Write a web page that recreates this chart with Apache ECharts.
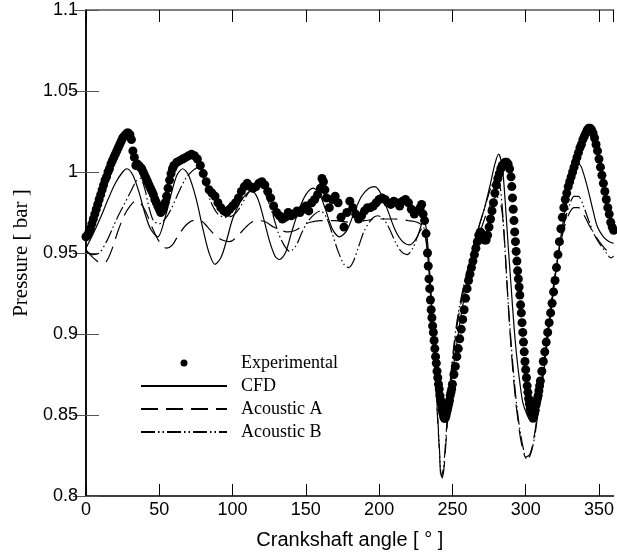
<!DOCTYPE html>
<html><head><meta charset="utf-8">
<script src="https://cdn.jsdelivr.net/npm/echarts@6/dist/echarts.min.js"></script>
<style>html,body{margin:0;padding:0;background:#fff}#c{width:617px;height:556px}</style>
</head><body><div id="c"></div>
<script>
// ---- data ----
const xTicks = [0, 50, 100, 150, 200, 250, 300, 350];
const yTicks = [0.8, 0.85, 0.9, 0.95, 1, 1.05, 1.1];
const seriesNames = ['Experimental', 'CFD', 'Acoustic A', 'Acoustic B'];

const expX = [0,1,2,3,4,5,6,7,8,9,10,11,12,13,14,15,16,17,18,19,20,21,22,23,24,25,26,27,28,29,30,31,32,33,34,35,36,37,38,39,40,41,42,43,44,45,46,47,48,49,50,51,52,53,54,55,56,57,58,59,60,62,64,66,68,70,72,74,76,78,80,82,84,86,88,90,92,94,96,98,100,102,104,106,108,110,112,114,116,118,120,122,124,126,128,130,132,134,136,138,140,142,144,146,148,150,152,154,156,158,160,161,162,163,164,166,168,170,172,174,176,178,180,182,184,186,188,190,192,194,196,198,200,202,204,206,208,210,212,214,216,218,220,222,224,226,228,229,230,231,232,233,233.5,234,234.5,235,235.5,236,236.5,237,237.5,238,238.5,239,239.5,240,240.5,241,241.5,242,242.5,243,243.5,244,244.5,245,245.5,246,246.5,247,247.5,248,248.5,249,249.5,250,251,252,253,254,255,256,257,258,259,260,261,262,263,264,265,266,267,268,269,270,271,272,273,274,275,276,277,278,279,280,281,282,283,284,285,286,287,288,289,290,290.5,291,291.5,292,292.5,293,293.5,294,294.5,295,295.5,296,296.5,297,297.5,298,298.5,299,299.5,300,300.5,301,301.5,302,302.5,303,303.5,304,304.5,305,305.5,306,306.5,307,307.5,308,308.5,309,309.5,310,311,312,313,314,315,316,317,318,319,320,321,322,323,324,325,326,327,328,329,330,331,332,333,334,335,336,337,338,339,340,341,342,343,344,345,346,347,348,349,350,351,352,353,354,355,356,357,358,359,360];
const expY = [0.960,0.961,0.963,0.965,0.968,0.971,0.974,0.977,0.980,0.983,0.986,0.989,0.992,0.995,0.997,1.000,1.002,1.005,1.007,1.009,1.011,1.013,1.015,1.017,1.019,1.021,1.022,1.023,1.024,1.024,1.023,1.020,1.013,1.009,1.004,1.005,1.004,1.003,1.002,1.000,0.998,0.996,0.994,0.992,0.990,0.988,0.986,0.983,0.981,0.979,0.977,0.975,0.976,0.978,0.981,0.985,0.990,0.995,0.999,1.002,1.004,1.006,1.007,1.008,1.009,1.010,1.011,1.010,1.008,1.004,0.999,0.994,0.989,0.987,0.985,0.981,0.978,0.976,0.975,0.977,0.979,0.981,0.984,0.988,0.991,0.993,0.991,0.990,0.991,0.993,0.994,0.992,0.988,0.984,0.979,0.975,0.973,0.971,0.972,0.975,0.973,0.974,0.976,0.975,0.977,0.979,0.976,0.981,0.983,0.986,0.990,0.996,0.994,0.989,0.984,0.978,0.983,0.985,0.981,0.972,0.966,0.975,0.982,0.978,0.974,0.971,0.973,0.976,0.978,0.978,0.979,0.981,0.983,0.984,0.983,0.981,0.980,0.982,0.981,0.979,0.982,0.983,0.981,0.977,0.974,0.976,0.978,0.980,0.974,0.970,0.962,0.950,0.942,0.934,0.928,0.921,0.915,0.910,0.905,0.901,0.896,0.891,0.886,0.882,0.877,0.873,0.869,0.866,0.862,0.859,0.856,0.853,0.851,0.849,0.848,0.848,0.849,0.851,0.853,0.855,0.857,0.859,0.862,0.864,0.866,0.869,0.875,0.880,0.886,0.891,0.897,0.903,0.909,0.915,0.922,0.928,0.933,0.937,0.941,0.945,0.949,0.953,0.957,0.961,0.963,0.962,0.960,0.958,0.958,0.961,0.966,0.971,0.976,0.981,0.987,0.992,0.996,0.999,1.002,1.004,1.005,1.006,1.006,1.005,1.002,0.997,0.991,0.984,0.977,0.970,0.963,0.957,0.951,0.945,0.939,0.934,0.929,0.924,0.918,0.913,0.907,0.901,0.895,0.889,0.883,0.878,0.873,0.868,0.864,0.860,0.857,0.854,0.852,0.850,0.849,0.848,0.849,0.851,0.853,0.856,0.858,0.860,0.862,0.865,0.868,0.871,0.877,0.883,0.889,0.895,0.901,0.907,0.913,0.919,0.926,0.933,0.941,0.949,0.957,0.965,0.972,0.978,0.983,0.987,0.991,0.994,0.997,1.000,1.003,1.006,1.009,1.012,1.015,1.017,1.020,1.022,1.024,1.026,1.027,1.027,1.026,1.024,1.021,1.017,1.013,1.008,1.003,0.998,0.993,0.988,0.983,0.978,0.974,0.969,0.966,0.964];

const cfdX = [0,5,10,15,20,25,28,32,36,40,44,49,54,58,62,66,70,75,80,84,88,92,96,100,105,110,113,117,121,125,129,132,136,140,145,150,155,159,163,168,173,178,183,188,193,197,201,206,211,216,221,226,230,232,234,236,238,240,242,244,246,248,250,253,256,260,264,268,272,276,279,281.5,284,286,288,290,292,294,296,298,301,304,307,310,313,316,319,322,325,328,331,334,336,338,342,346,349,353,357,360];
const cfdY = [0.953,0.962,0.972,0.983,0.993,1.000,1.002,0.998,0.988,0.975,0.965,0.960,0.972,0.986,0.998,1.002,0.998,0.984,0.964,0.950,0.943,0.947,0.958,0.971,0.981,0.987,0.988,0.984,0.972,0.958,0.948,0.946,0.950,0.962,0.976,0.986,0.990,0.987,0.978,0.965,0.960,0.964,0.975,0.985,0.990,0.991,0.987,0.976,0.964,0.957,0.955,0.960,0.969,0.966,0.945,0.915,0.890,0.868,0.853,0.848,0.852,0.862,0.876,0.894,0.912,0.932,0.950,0.966,0.978,0.993,1.005,1.011,1.003,0.982,0.955,0.930,0.905,0.885,0.870,0.858,0.850,0.847,0.850,0.862,0.882,0.905,0.927,0.948,0.966,0.982,0.994,1.002,1.005,1.003,0.991,0.976,0.966,0.960,0.957,0.956];

const acAX = [0,5,10,14,18,22,26,30,34,37,41,45,50,55,59,63,68,73,78,83,88,93,98,103,108,113,118,123,128,133,138,143,148,153,160,170,180,190,200,210,220,226,230,233,235,237,239,241,242.5,244,246,248,251,254,258,262,266,270,274,278,280,283,285,287,289,291,293,295,297,300,303,306,309,312,315,318,321,324,327,330,333,336,340,344,348,352,356,360];
const acAY = [0.952,0.947,0.944,0.945,0.953,0.964,0.973,0.979,0.982,0.981,0.975,0.966,0.957,0.953,0.955,0.961,0.967,0.970,0.970,0.966,0.961,0.958,0.957,0.960,0.965,0.969,0.970,0.969,0.966,0.964,0.963,0.964,0.967,0.969,0.970,0.970,0.969,0.970,0.971,0.971,0.970,0.969,0.966,0.950,0.925,0.895,0.862,0.830,0.810,0.815,0.838,0.862,0.890,0.910,0.928,0.942,0.955,0.966,0.976,0.983,0.985,0.980,0.965,0.935,0.905,0.880,0.860,0.845,0.833,0.824,0.826,0.838,0.858,0.880,0.902,0.924,0.942,0.957,0.968,0.975,0.978,0.978,0.973,0.966,0.960,0.955,0.951,0.949];

const acBX = [0,5,9,14,18,22,26,30,34,37,40,43,46,50,54,58,63,68,73,77,81,85,90,95,100,105,110,115,119,123,127,131,135,139,143,147,151,156,160,164,168,172,176,179,182,186,190,195,199,203,207,211,215,219,223,227,230,233,235,237,239,241,242.5,244,246,248,251,254,258,262,266,270,274,277,280,282,284,286,288,290,292,294,296,298,300.5,303,306,309,312,315,318,321,324,327,330,333,336,339,343,347,351,355,358,360];
const acBY = [0.951,0.949,0.950,0.957,0.965,0.973,0.980,0.987,0.994,0.996,0.990,0.978,0.970,0.968,0.971,0.977,0.987,0.996,1.001,1.003,0.994,0.982,0.974,0.972,0.973,0.978,0.986,0.991,0.991,0.985,0.975,0.963,0.955,0.951,0.954,0.962,0.969,0.974,0.976,0.972,0.962,0.951,0.943,0.941,0.944,0.954,0.964,0.971,0.973,0.971,0.965,0.957,0.951,0.949,0.953,0.962,0.966,0.952,0.928,0.898,0.865,0.832,0.812,0.818,0.842,0.866,0.893,0.913,0.931,0.946,0.960,0.972,0.984,0.992,0.996,0.994,0.978,0.950,0.920,0.895,0.873,0.855,0.841,0.831,0.823,0.825,0.836,0.856,0.878,0.900,0.922,0.942,0.959,0.971,0.980,0.985,0.985,0.980,0.970,0.961,0.955,0.950,0.947,0.948];

// ---- build ----
const zip = (xs, ys) => xs.map((x, i) => [x, ys[i]]);
const chart = echarts.init(document.getElementById('c'), null, {renderer: 'canvas'});
const sans = 'Liberation Sans';
const serif = 'Liberation Serif';
const lineCommon = {type: 'line', showSymbol: false, symbol: 'none', smooth: 0.3, z: 2};

chart.setOption({
  animation: false,
  backgroundColor: '#fff',
  grid: {left: 86, right: -1.5, top: 10, bottom: 60, containLabel: false},
  legend: {
    orient: 'vertical', left: 135, top: 349,
    itemWidth: 86, itemHeight: 7, itemGap: 5,
    data: [
      {name: seriesNames[0], itemStyle: {color: '#000', opacity: 1}},
      {name: seriesNames[1], itemStyle: {opacity: 0}},
      {name: seriesNames[2], itemStyle: {opacity: 0}},
      {name: seriesNames[3], itemStyle: {opacity: 0}}
    ],
    textStyle: {fontFamily: serif, fontSize: 18, color: '#000', padding: [0, 0, 0, 9]},
    selectedMode: false
  },
  xAxis: [{
    type: 'value', min: 0, max: 360, interval: 50, position: 'bottom',
    name: 'Crankshaft angle [ ° ]', nameLocation: 'middle', nameGap: 34,
    nameTextStyle: {fontFamily: sans, fontSize: 20, color: '#000'},
    axisLine: {show: true, lineStyle: {color: '#000', width: 1.5}},
    axisTick: {show: true, inside: true, length: 12, lineStyle: {color: '#000', width: 1}},
    axisLabel: {fontFamily: sans, fontSize: 18, color: '#000', margin: 5, showMaxLabel: false,
      formatter: v => (xTicks.indexOf(v) >= 0 ? String(v) : '')},
    splitLine: {show: false}
  }, {
    type: 'value', min: 0, max: 360, interval: 50, position: 'top',
    axisLine: {show: true, lineStyle: {color: '#555', width: 1.5}},
    axisTick: {show: true, inside: true, length: 12, lineStyle: {color: '#000', width: 1}},
    axisLabel: {show: false}, splitLine: {show: false}
  }],
  yAxis: [{
    type: 'value', min: 0.8, max: 1.1, interval: 0.05, position: 'left',
    name: 'Pressure [ bar ]', nameLocation: 'middle', nameGap: 52,
    nameTextStyle: {fontFamily: serif, fontSize: 21, color: '#000'},
    axisLine: {show: true, lineStyle: {color: '#000', width: 1.5}},
    axisTick: {show: true, inside: true, length: 13, lineStyle: {color: '#555', width: 1}},
    axisLabel: {fontFamily: sans, fontSize: 18, color: '#000', margin: 8,
      formatter: v => String(+v.toFixed(2))},
    splitLine: {show: false}
  }, {
    type: 'value', min: 0.8, max: 1.1, interval: 0.05, position: 'right',
    axisLine: {show: true, lineStyle: {color: '#000', width: 1.5}},
    axisTick: {show: true, inside: true, length: 13, lineStyle: {color: '#555', width: 1}},
    axisLabel: {show: false}, splitLine: {show: false}
  }],
  series: [
    {name: seriesNames[0], type: 'scatter', symbol: 'circle', symbolSize: 9, z: 3,
      itemStyle: {color: '#000', opacity: 1}, data: zip(expX, expY)},
    Object.assign({}, lineCommon, {name: seriesNames[1], data: zip(cfdX, cfdY),
      itemStyle: {color: '#000'}, lineStyle: {color: '#000', width: 1.2, type: 'solid'}}),
    Object.assign({}, lineCommon, {name: seriesNames[2], data: zip(acAX, acAY),
      itemStyle: {color: '#000'}, lineStyle: {color: '#000', width: 1.2, type: [17, 8]}}),
    Object.assign({}, lineCommon, {name: seriesNames[3], data: zip(acBX, acBY),
      itemStyle: {color: '#000'}, lineStyle: {color: '#000', width: 1.2, type: [14, 3, 1.5, 3, 1.5, 3]}})
  ]
});
</script>
</body></html>
